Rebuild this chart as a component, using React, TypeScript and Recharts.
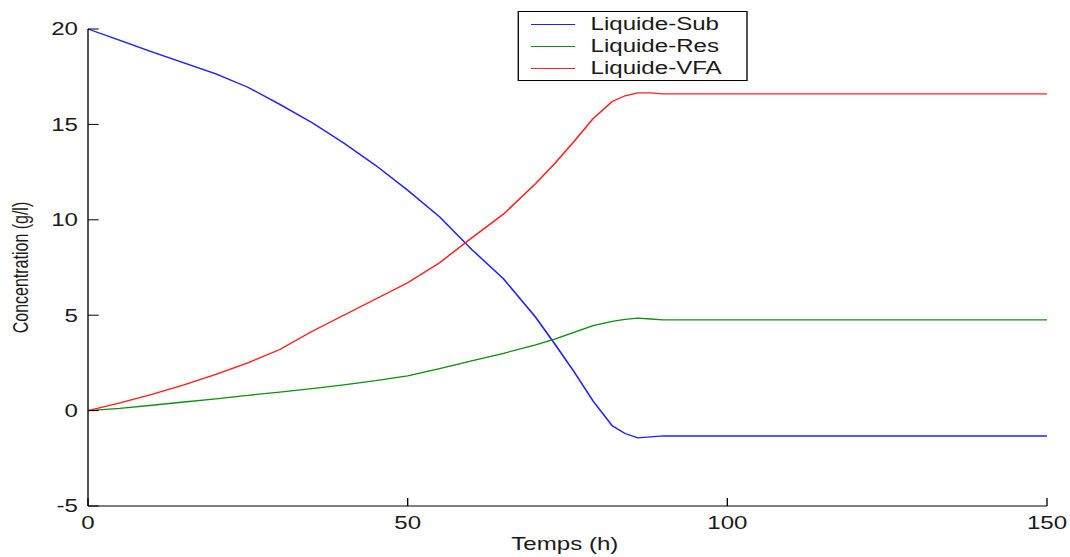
import React from 'react';
import { LineChart, Line, XAxis, YAxis, Legend } from 'recharts';

const times = [0, 5, 10, 15, 20, 25, 30, 35, 40, 45, 50, 55, 60, 65, 70, 73, 76, 79, 82, 84, 86, 88, 90, 150];
const liquideSub = [20, 19.4, 18.8, 18.22, 17.65, 16.95, 16.05, 15.1, 14.02, 12.85, 11.55, 10.15, 8.45, 6.9, 4.9, 3.5, 2.05, 0.5, -0.8, -1.2, -1.43, -1.38, -1.33, -1.33];
const liquideRes = [0, 0.12, 0.28, 0.45, 0.62, 0.8, 0.97, 1.15, 1.35, 1.57, 1.82, 2.2, 2.6, 3.0, 3.45, 3.75, 4.1, 4.45, 4.68, 4.78, 4.85, 4.8, 4.75, 4.75];
const liquideVFA = [0, 0.4, 0.85, 1.35, 1.9, 2.5, 3.2, 4.15, 5.0, 5.85, 6.7, 7.75, 9.05, 10.3, 11.9, 12.95, 14.1, 15.3, 16.2, 16.5, 16.65, 16.65, 16.6, 16.6];

const xTicks = [0, 50, 100, 150];
const yTicks = [-5, 0, 5, 10, 15, 20];
const seriesKeys = ['sub', 'res', 'vfa'];
const seriesNames = ['Liquide-Sub', 'Liquide-Res', 'Liquide-VFA'];
const seriesColors = ['#2020ff', '#109010', '#ff2020'];

const data = times.map((t, i) => ({
  t,
  sub: liquideSub[i],
  res: liquideRes[i],
  vfa: liquideVFA[i],
}));

const FONT = '"Liberation Sans", Arial, sans-serif';
const TICK_LEN = 8;

const LeftTick = (props: any) => {
  const { x, y, payload } = props;
  return (
    <g>
      <line x1={x} x2={x + TICK_LEN} y1={y} y2={y} stroke="#000" />
      <text x={x - 7.5} y={y} dy={6.5} textAnchor="end" fontSize={18} fill="#1a1a1a" fontFamily={FONT}>
        {payload.value}
      </text>
    </g>
  );
};

const BottomTick = (props: any) => {
  const { x, y, payload } = props;
  return (
    <g>
      <line x1={x} x2={x} y1={y} y2={y - TICK_LEN} stroke="#000" />
      <text x={x} y={y + 23} textAnchor="middle" fontSize={18} fill="#1a1a1a" fontFamily={FONT}>
        {payload.value}
      </text>
    </g>
  );
};

const TopTick = (props: any) => {
  const { x, y } = props;
  return <line x1={x} x2={x} y1={y} y2={y + TICK_LEN} stroke="#000" />;
};

const RightTick = (props: any) => {
  const { x, y } = props;
  return <line x1={x} x2={x - TICK_LEN} y1={y} y2={y} stroke="#000" />;
};

const YLabel = (props: any) => {
  const vb = props.viewBox || { x: 15.8, y: 29, width: 50, height: 477 };
  const cx = vb.x + 5.5;
  const cy = vb.y + vb.height / 2;
  return (
    <text
      x={cx}
      y={cy}
      transform={`rotate(-90, ${cx}, ${cy})`}
      textAnchor="middle"
      fontSize={16}
      fill="#1a1a1a"
      fontFamily={FONT}
    >
      Concentration (g/l)
    </text>
  );
};

const XLabel = (props: any) => {
  const vb = props.viewBox || { x: 65.8, y: 506, width: 717, height: 30 };
  const cx = vb.x + vb.width / 2 - 2;
  return (
    <text x={cx} y={vb.y + 44} textAnchor="middle" fontSize={18} fill="#1a1a1a" fontFamily={FONT}>
      Temps (h)
    </text>
  );
};

const LegendBox = () => (
  <div
    style={{
      width: 172,
      height: 70,
      border: '1px solid #000',
      background: '#fff',
      boxSizing: 'border-box',
      fontFamily: FONT,
      fontSize: 18,
      color: '#1a1a1a',
      paddingTop: 1,
    }}
  >
    {seriesNames.map((name, i) => (
      <div key={name} style={{ display: 'flex', alignItems: 'center', height: 22 }}>
        <div
          style={{
            width: 33,
            height: 1,
            background: seriesColors[i],
            marginLeft: 9,
            marginRight: 12,
            flex: '0 0 auto',
          }}
        />
        <span style={{ lineHeight: '22px', whiteSpace: 'nowrap' }}>{name}</span>
      </div>
    ))}
  </div>
);

export default function App() {
  return (
    <div
      style={{
        position: 'absolute',
        left: 0,
        top: 0,
        width: 800,
        height: 557,
        background: '#fff',
        transform: 'scaleX(1.3375)',
        transformOrigin: '0 0',
      }}
    >
      <LineChart
        width={800}
        height={557}
        data={data}
        margin={{ top: 29, right: 17.2, bottom: 21, left: 15.8 }}
      >
        <XAxis
          xAxisId="bottom"
          dataKey="t"
          type="number"
          domain={[0, 150]}
          ticks={xTicks}
          orientation="bottom"
          height={30}
          tickSize={0}
          tickMargin={0}
          tickLine={false}
          tick={<BottomTick />}
          axisLine={{ stroke: '#000' }}
          label={<XLabel />}
          interval={0}
        />
        <XAxis
          xAxisId="top"
          dataKey="t"
          type="number"
          domain={[0, 150]}
          ticks={xTicks}
          orientation="top"
          height={0}
          tickSize={0}
          tickMargin={0}
          tickLine={false}
          tick={<TopTick />}
          axisLine={{ stroke: '#000' }}
          interval={0}
        />
        <YAxis
          yAxisId="left"
          type="number"
          domain={[-5, 20]}
          ticks={yTicks}
          orientation="left"
          width={50}
          tickSize={0}
          tickMargin={0}
          tickLine={false}
          tick={<LeftTick />}
          axisLine={{ stroke: '#000' }}
          label={<YLabel />}
          interval={0}
        />
        <YAxis
          yAxisId="right"
          type="number"
          domain={[-5, 20]}
          ticks={yTicks}
          orientation="right"
          width={0}
          tickSize={0}
          tickMargin={0}
          tickLine={false}
          tick={<RightTick />}
          axisLine={{ stroke: '#000' }}
          interval={0}
        />
        <Legend
          layout="horizontal"
          verticalAlign="middle"
          align="center"
          content={<LegendBox />}
          wrapperStyle={{ left: 386.5, top: 11, width: 172, height: 70 }}
        />
        <Line
          xAxisId="top"
          yAxisId="right"
          dataKey="sub"
          name="frame"
          stroke="none"
          dot={false}
          activeDot={false}
          legendType="none"
          isAnimationActive={false}
        />
        {seriesKeys.map((k, i) => (
          <Line
            key={k}
            xAxisId="bottom"
            yAxisId="left"
            dataKey={k}
            name={seriesNames[i]}
            stroke={seriesColors[i]}
            strokeWidth={1.3}
            dot={false}
            activeDot={false}
            type="linear"
            isAnimationActive={false}
          />
        ))}
      </LineChart>
    </div>
  );
}
